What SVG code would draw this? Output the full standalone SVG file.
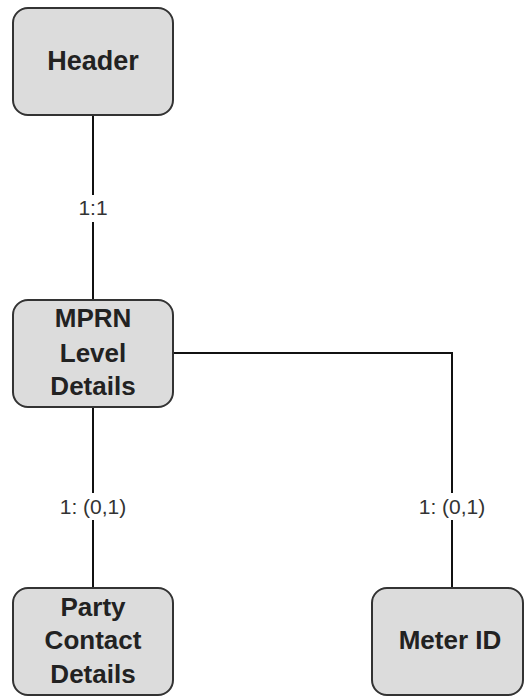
<svg xmlns="http://www.w3.org/2000/svg" width="524" height="696" viewBox="0 0 524 696">
<style>
.box{fill:#dcdcdc;stroke:#333;stroke-width:2}
.t{font-family:"Liberation Sans",Arial,sans-serif;font-weight:bold;font-size:26px;fill:#222;text-anchor:middle}
.l{font-family:"Liberation Sans",Arial,sans-serif;font-size:21px;fill:#333;text-anchor:middle}
.c{fill:none;stroke:#111;stroke-width:2}
.bg{fill:#fff}
</style>
<rect width="524" height="696" fill="#fff"/>
<g id="connectors">
<line class="c" x1="93" y1="115" x2="93" y2="300"/>
<line class="c" x1="93" y1="407" x2="93" y2="588"/>
<polyline class="c" points="173,353 452,353 452,588"/>
<rect class="bg" x="70" y="195" width="46" height="27"/>
<text class="l" x="93" y="215">1:1</text>
<rect class="bg" x="54" y="493" width="78" height="27"/>
<text class="l" x="93" y="514">1: (0,1)</text>
<rect class="bg" x="413" y="493" width="78" height="27"/>
<text class="l" x="452" y="514">1: (0,1)</text>
</g>
<g id="header">
<rect class="box" x="13" y="8" width="160" height="107" rx="15"/>
<text class="t" x="93" y="70" style="font-size:27px">Header</text>
</g>
<g id="mprn">
<rect class="box" x="13" y="300" width="160" height="107" rx="15"/>
<text class="t" x="93" y="327">MPRN</text>
<text class="t" x="93" y="362">Level</text>
<text class="t" x="93" y="395">Details</text>
</g>
<g id="party">
<rect class="box" x="13" y="588" width="160" height="107" rx="15"/>
<text class="t" x="93" y="616">Party</text>
<text class="t" x="93" y="649">Contact</text>
<text class="t" x="93" y="683">Details</text>
</g>
<g id="meter">
<rect class="box" x="372" y="588" width="151" height="107" rx="15"/>
<text class="t" x="450" y="649">Meter ID</text>
</g>
</svg>
